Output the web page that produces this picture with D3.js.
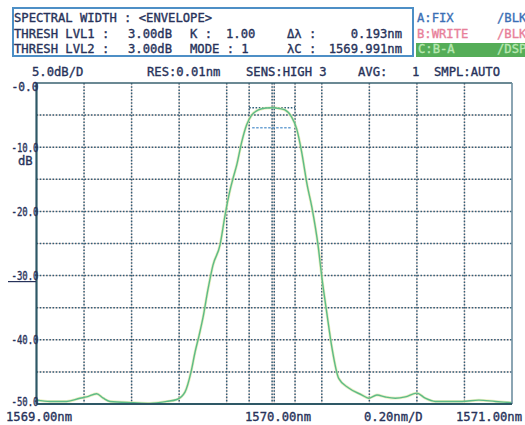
<html>
<head>
  <title>Spectral width</title>
  <script src='https://d3js.org/d3.v7.min.js'></script>
  <style>
    body { margin: 0; background: #fff; }
    text { font-family: 'DejaVu Sans Mono', monospace; font-size: 12.2px; fill: #27325a; white-space: pre;
      stroke: #27325a; stroke-width: 0.35px; }
  </style>
</head>
<body>
  <script>
    // trace (nm, dB)
    const wavelength = [1569.000, 1569.057, 1569.127, 1569.183, 1569.211, 1569.253, 1569.281, 1569.309,
      1569.407, 1569.477, 1569.548, 1569.590, 1569.625, 1569.650, 1569.667, 1569.684, 1569.700,
      1569.721, 1569.742, 1569.772, 1569.793, 1569.814, 1569.827, 1569.842, 1569.863, 1569.884,
      1569.905, 1569.933, 1569.965, 1569.996, 1570.024, 1570.045, 1570.073, 1570.094, 1570.115,
      1570.129, 1570.136, 1570.158, 1570.185, 1570.200, 1570.221, 1570.242, 1570.271, 1570.313,
      1570.369, 1570.397, 1570.432, 1570.467, 1570.509, 1570.551, 1570.600, 1570.635, 1570.677,
      1570.790, 1570.860, 1570.930, 1571.000];
    const level = [-49.4, -49.6, -49.6, -49.1, -48.9, -48.4, -49.1, -49.6,
      -49.8, -49.9, -49.6, -49.3, -48.1, -45.0, -41.9, -39.3, -36.6,
      -32.2, -28.4, -25.2, -20.6, -16.7, -14.8, -12.8, -9.2, -6.5,
      -5.0, -4.2, -3.9, -3.85, -4.0, -4.2, -5.3, -7.1, -10.7,
      -13.8, -15.4, -19.3, -25.5, -30.2, -35.8, -41.1, -46.0, -47.5,
      -48.6, -49.1, -48.6, -48.9, -49.1, -48.9, -48.3, -49.1, -49.6,
      -49.6, -49.4, -49.6, -49.8];

    const yTickValues = [0, -10, -20, -30, -40, -50];
    const yTickLabels = ['-0.0', '-10.0', '-20.0', '-30.0', '-40.0', '-50.0'];
    const xLabels = ['1569.00nm', '1570.00nm', '0.20nm/D', '1571.00nm'];

    const lambdaC = 1569.991, deltaLambda = 0.193;
    const peakLevel = -3.85, threshLevel = -6.96;

    const width = 525, height = 425;
    const pLeft = 36.5, pRight = 512, pTop = 83, pBottom = 404;

    const svg = d3.select('body').append('svg')
      .attr('width', width).attr('height', height);

    const x = d3.scaleLinear().domain([1569, 1571]).range([pLeft, pRight]);
    const y = d3.scaleLinear().domain([-50, 0]).range([pBottom, pTop]);

    // header box
    svg.append('rect').attr('x', 13).attr('y', 8).attr('width', 400).attr('height', 48)
      .attr('fill', 'none').attr('stroke', '#4d8fc6').attr('stroke-width', 2);
    svg.append('rect').attr('x', 416).attr('y', 43).attr('width', 109).attr('height', 14)
      .attr('fill', '#55ad58');

    function txt(s, tx, ty, anchor, color) {
      const t = svg.append('text').attr('x', tx).attr('y', ty).text(s);
      if (anchor) t.attr('text-anchor', anchor);
      if (color) t.style('fill', color).style('stroke', color);
      return t;
    }
    txt('SPECTRAL WIDTH : <ENVELOPE>', 14, 22);
    txt('THRESH LVL1 :', 14, 37.5);
    txt('3.00dB', 128, 37.5);
    txt('K :', 190, 37.5);
    txt('1.00', 226, 37.5);
    txt('Δλ :', 287, 37.5);
    txt('0.193nm', 402, 37.5, 'end');
    txt('THRESH LVL2 :', 14, 52.5);
    txt('3.00dB', 128, 52.5);
    txt('MODE : 1', 190, 52.5);
    txt('λC :', 287, 52.5);
    txt('1569.991nm', 402, 52.5, 'end');

    txt('A:FIX', 417, 22, null, '#3b6fb5');
    txt('/BLK', 497, 22, null, '#3b6fb5');
    txt('B:WRITE', 417, 37.5, null, '#e8809a');
    txt('/BLK', 497, 37.5, null, '#e8809a');
    txt('C:B-A', 418, 53, null, '#b8e8b2');
    txt('/DSP', 497, 53, null, '#b8e8b2');

    txt('5.0dB/D', 32, 76);
    txt('RES:0.01nm', 147, 76);
    txt('SENS:HIGH 3', 246, 76);
    txt('AVG:', 358, 76);
    txt('1', 412, 76);
    txt('SMPL:AUTO', 434, 76);

    // grid
    const grid = svg.append('g');
    const xGrid = x.ticks(10).slice(1, -1).concat([lambdaC - deltaLambda / 2, lambdaC, lambdaC + deltaLambda / 2]);
    const yGrid = y.ticks(10).slice(1, -1);
    [['#f2d5cb', null, 1], ['#2f5d77', '1.6,1.6', 1.5]].forEach(function (st) {
      grid.selectAll(null).data(xGrid).enter().append('line')
        .attr('x1', d => x(d)).attr('x2', d => x(d)).attr('y1', pTop).attr('y2', pBottom)
        .attr('stroke', st[0]).attr('stroke-width', st[2]).attr('stroke-dasharray', st[1]);
      grid.selectAll(null).data(yGrid).enter().append('line')
        .attr('x1', pLeft).attr('x2', pRight).attr('y1', d => y(d)).attr('y2', d => y(d))
        .attr('stroke', st[0]).attr('stroke-width', st[2]).attr('stroke-dasharray', st[1]);
    });

    // marker box
    grid.append('line')
      .attr('x1', x(lambdaC - deltaLambda / 2)).attr('x2', x(lambdaC + deltaLambda / 2))
      .attr('y1', y(peakLevel)).attr('y2', y(peakLevel))
      .attr('stroke', '#2f5d77').attr('stroke-width', 1.5).attr('stroke-dasharray', '1.6,1.6');
    grid.append('line')
      .attr('x1', x(lambdaC - deltaLambda / 2) + 3).attr('x2', x(lambdaC + deltaLambda / 2) - 3)
      .attr('y1', y(threshLevel)).attr('y2', y(threshLevel))
      .attr('stroke', '#6da3d4').attr('stroke-width', 1.4).attr('stroke-dasharray', '2.5,1.5');

    // trace
    const pts = wavelength.map((w, i) => [w, level[i]]);
    const line = d3.line().curve(d3.curveMonotoneX).x(d => x(d[0])).y(d => y(d[1]));
    svg.append('path').attr('d', line(pts)).attr('fill', 'none')
      .attr('stroke', '#dfe7a4').attr('stroke-width', 2.8).attr('opacity', 0.7);
    svg.append('path').attr('d', line(pts)).attr('fill', 'none')
      .attr('stroke', '#5cbb88').attr('stroke-width', 1.4);

    // frame
    svg.append('line').attr('x1', pLeft).attr('x2', pRight).attr('y1', pTop).attr('y2', pTop)
      .attr('stroke', '#3a6270').attr('stroke-width', 1.6);
    svg.append('line').attr('x1', pRight).attr('x2', pRight).attr('y1', pTop).attr('y2', pBottom)
      .attr('stroke', '#6e8fa0').attr('stroke-width', 1.6);
    svg.append('line').attr('x1', pLeft).attr('x2', pRight).attr('y1', pBottom).attr('y2', pBottom)
      .attr('stroke', '#2e5866').attr('stroke-width', 2.2);
    svg.append('line').attr('x1', pLeft).attr('x2', pLeft).attr('y1', pTop).attr('y2', pBottom)
      .attr('stroke', '#2e5866').attr('stroke-width', 2.2);

    // y labels
    yTickValues.forEach(function (v, i) {
      const ly = Math.min(Math.max(y(v), pTop + 3), pBottom - 3) + 4.5;
      txt(yTickLabels[i], 38.5, ly, 'end').attr('textLength', 27).attr('lengthAdjust', 'spacingAndGlyphs');
    });
    txt('dB', 18, 165);
    svg.append('line').attr('x1', 8).attr('x2', 36).attr('y1', y(-30) + 6).attr('y2', y(-30) + 6)
      .attr('stroke', '#27325a').attr('stroke-width', 1.2);

    // x labels
    txt(xLabels[0], 6, 421);
    txt(xLabels[1], 245, 421);
    txt(xLabels[2], 364, 421);
    txt(xLabels[3], 522, 421, 'end');
  </script>
</body>
</html>
